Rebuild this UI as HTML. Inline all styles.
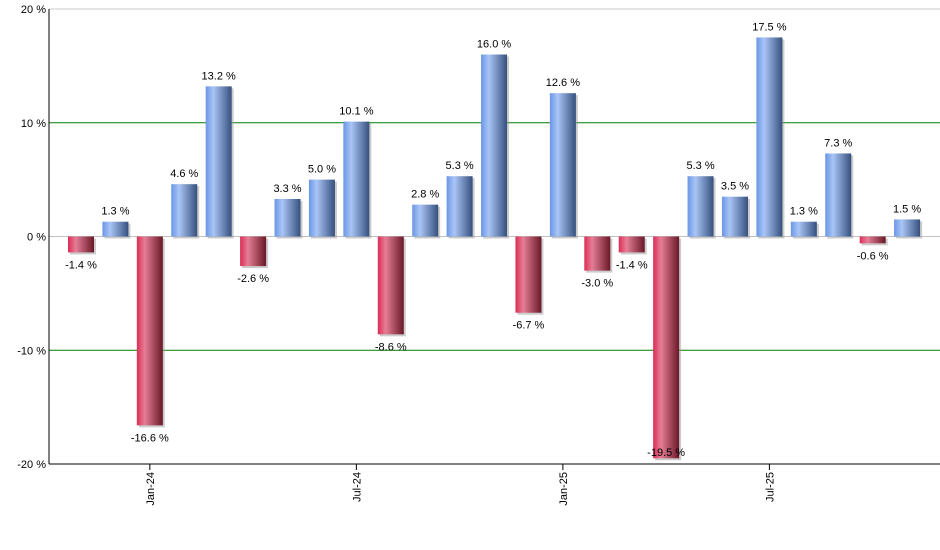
<!DOCTYPE html>
<html><head><meta charset="utf-8"><style>body{margin:0;background:#fff}svg{display:block;font-family:"Liberation Sans",sans-serif}</style></head>
<body>
<svg id="c" width="940" height="550">
<defs>
<linearGradient id="gb" x1="0" x2="1"><stop offset="0" stop-color="#6a96e6"/><stop offset="0.3" stop-color="#a9c5f5"/><stop offset="1" stop-color="#36507e"/></linearGradient>
<linearGradient id="gr" x1="0" x2="1"><stop offset="0" stop-color="#dc2c55"/><stop offset="0.3" stop-color="#e57e96"/><stop offset="1" stop-color="#6a1828"/></linearGradient>
</defs>
</svg>
<script>
const categories=["Nov-23","Dec-23","Jan-24","Feb-24","Mar-24","Apr-24","May-24","Jun-24","Jul-24","Aug-24","Sep-24","Oct-24","Nov-24","Dec-24","Jan-25","Feb-25","Mar-25","Apr-25","May-25","Jun-25","Jul-25","Aug-25","Sep-25","Oct-25","Nov-25"];
const values=[-1.4,1.3,-16.6,4.6,13.2,-2.6,3.3,5.0,10.1,-8.6,2.8,5.3,16.0,-6.7,12.6,-3.0,-1.4,-19.5,5.3,3.5,17.5,1.3,7.3,-0.6,1.5];
const yTicks=[-20,-10,0,10,20];
const xLabels=["Jan-24","Jul-24","Jan-25","Jul-25"];
const svg=document.getElementById('c'),NS='http://www.w3.org/2000/svg';
const L=49,R=940,T=9,B=464,yMin=-20,yMax=20;
const y=v=>T+(yMax-v)/(yMax-yMin)*(B-T);
const step=34.42,x0=81;
const x=i=>x0+i*step;
function mk(t,a,p){const e=document.createElementNS(NS,t);for(const k in a)e.setAttribute(k,a[k]);(p||svg).appendChild(e);return e;}
mk('line',{x1:L,x2:R,y1:T,y2:T,stroke:'#c8c8c8'});
yTicks.forEach(v=>{
 if(v===10||v===-10){const g=mk('line',{x1:L,x2:R,y1:y(v),y2:y(v),stroke:'#008000'});}
 if(v===0){const g=mk('line',{x1:L,x2:R,y1:y(0),y2:y(0),stroke:'#c0c0c0'});}
 const t=mk('text',{x:L-3,y:y(v)+4,'text-anchor':'end','font-size':11,fill:'#000'});t.textContent=v+' %';
 
 
});
values.forEach((v,i)=>{
 const w=26,cx=x(i),top=y(Math.max(v,0)),h=Math.abs(y(v)-y(0));
 mk('rect',{x:cx-w/2+2,y:top+2,width:w,height:h,fill:'#999','fill-opacity':0.5});
 const r=mk('rect',{x:cx-w/2,y:top,width:w,height:h,fill:v>=0?'url(#gb)':'url(#gr)'});
 
 
 const ly=v>=0?y(v)-7:Math.min(y(v)+16,B-8);
 const t=mk('text',{x:cx,y:ly,'text-anchor':'middle','font-size':11,fill:'#000'});t.textContent=v.toFixed(1)+' %';
 
 
});
mk('line',{x1:L,x2:L,y1:T,y2:B,stroke:'#000'});
mk('line',{x1:L,x2:R,y1:B,y2:B,stroke:'#000'});
xLabels.forEach(lab=>{
 const i=categories.indexOf(lab),cx=x(i);
 mk('line',{x1:cx,x2:cx,y1:B,y2:B+6,stroke:'#000'});
 const t=mk('text',{x:0,y:0,'text-anchor':'end','font-size':11,fill:'#000',transform:`translate(${cx+4},${B+8}) rotate(-90)`});t.textContent=lab;
 
 
});
</script>
</body></html>
